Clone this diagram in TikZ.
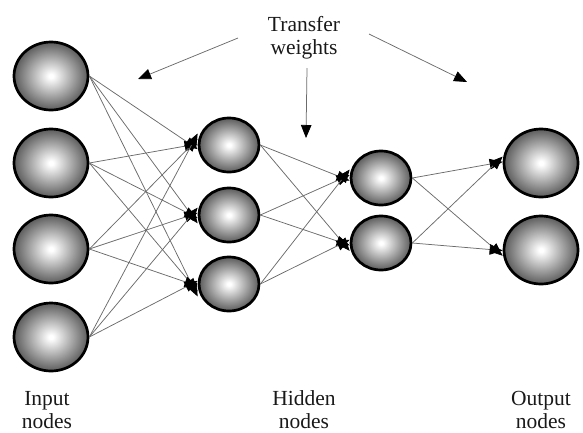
\documentclass[tikz,border=0pt]{standalone}
\usepackage{fontspec}
\setmainfont{Liberation Serif}
\newfontfamily\lblserif{Liberation Serif}
\usetikzlibrary{shapes.geometric,arrows.meta,calc}
\pgfdeclareradialshading{ballshade}{\pgfpoint{0bp}{0bp}}{color(0bp)=(white); color(1.5bp)=(white); color(25bp)=(black!64); color(50bp)=(black!64)}
\tikzset{
  ball/.style={ellipse, shading=ballshade, draw=black, line width=2.7pt, inner sep=0pt},
  bigball/.style={ball, minimum width=74pt, minimum height=68pt},
  smallball/.style={ball, minimum width=60pt, minimum height=54pt},
  conn/.style={draw=black!58, line width=0.75pt, -{Triangle[length=13pt,width=10.5pt,color=black]}},
  lbl/.style={font=\lblserif\fontsize{21.5pt}{23pt}\selectfont, align=center, inner sep=0pt, text=black!90}
}
\begin{document}
\begin{tikzpicture}[x=1pt,y=-1pt]
\useasboundingbox (0,0) rectangle (583,432);
% input nodes
\node[bigball] (i1) at (51,76) {};
\node[bigball] (i2) at (51,163) {};
\node[bigball] (i3) at (51,249) {};
\node[bigball] (i4) at (51,337) {};
% hidden layer 1
\node[smallball] (h1) at (229,145) {};
\node[smallball] (h2) at (229,215) {};
\node[smallball] (h3) at (229,284) {};
% hidden layer 2
\node[smallball] (g1) at (381,178) {};
\node[smallball] (g2) at (381,243) {};
% output nodes
\node[bigball] (o1) at (541,163) {};
\node[bigball] (o2) at (541,250) {};
% connections
\foreach \s in {i1,i2,i3,i4}{
  \foreach \t in {h1,h2,h3}{
    \draw[conn] let \p1=(\s.center), \p2=(\t.center) in
      (\s.east) -- ($(\t.west)+(0,{0.06*(\y2-\y1)})$);
  }
}
\foreach \s in {h1,h2,h3}{
  \foreach \t in {g1,g2}{
    \draw[conn] let \p1=(\s.center), \p2=(\t.center) in
      (\s.east) -- ($(\t.west)+(0,{0.08*(\y2-\y1)})$);
  }
}
\foreach \s in {g1,g2}{
  \foreach \t in {o1,o2}{
    \draw[conn] let \p1=(\s.center), \p2=(\t.center) in
      (\s.east) -- ($(\t.west)+(0,{0.08*(\y2-\y1)})$);
  }
}
% labels
\node[lbl, anchor=base] (tw) at (304,54) {Transfer\\weights};
\node[lbl, anchor=base] (li) at (47,428) {Input\\nodes};
\node[lbl, anchor=base] (lh) at (304,428) {Hidden\\nodes};
\node[lbl, anchor=base] (lo) at (541,428) {Output\\nodes};
% annotation arrows
\coordinate (a1s) at (238,38);
\coordinate (a1e) at (138,79);
\coordinate (a2s) at (307,68);
\coordinate (a2e) at (306,138);
\coordinate (a3s) at (369,34);
\coordinate (a3e) at (467,82);
\draw[conn] (a1s) -- (a1e);
\draw[conn] (a2s) -- (a2e);
\draw[conn] (a3s) -- (a3e);
\end{tikzpicture}
\end{document}
